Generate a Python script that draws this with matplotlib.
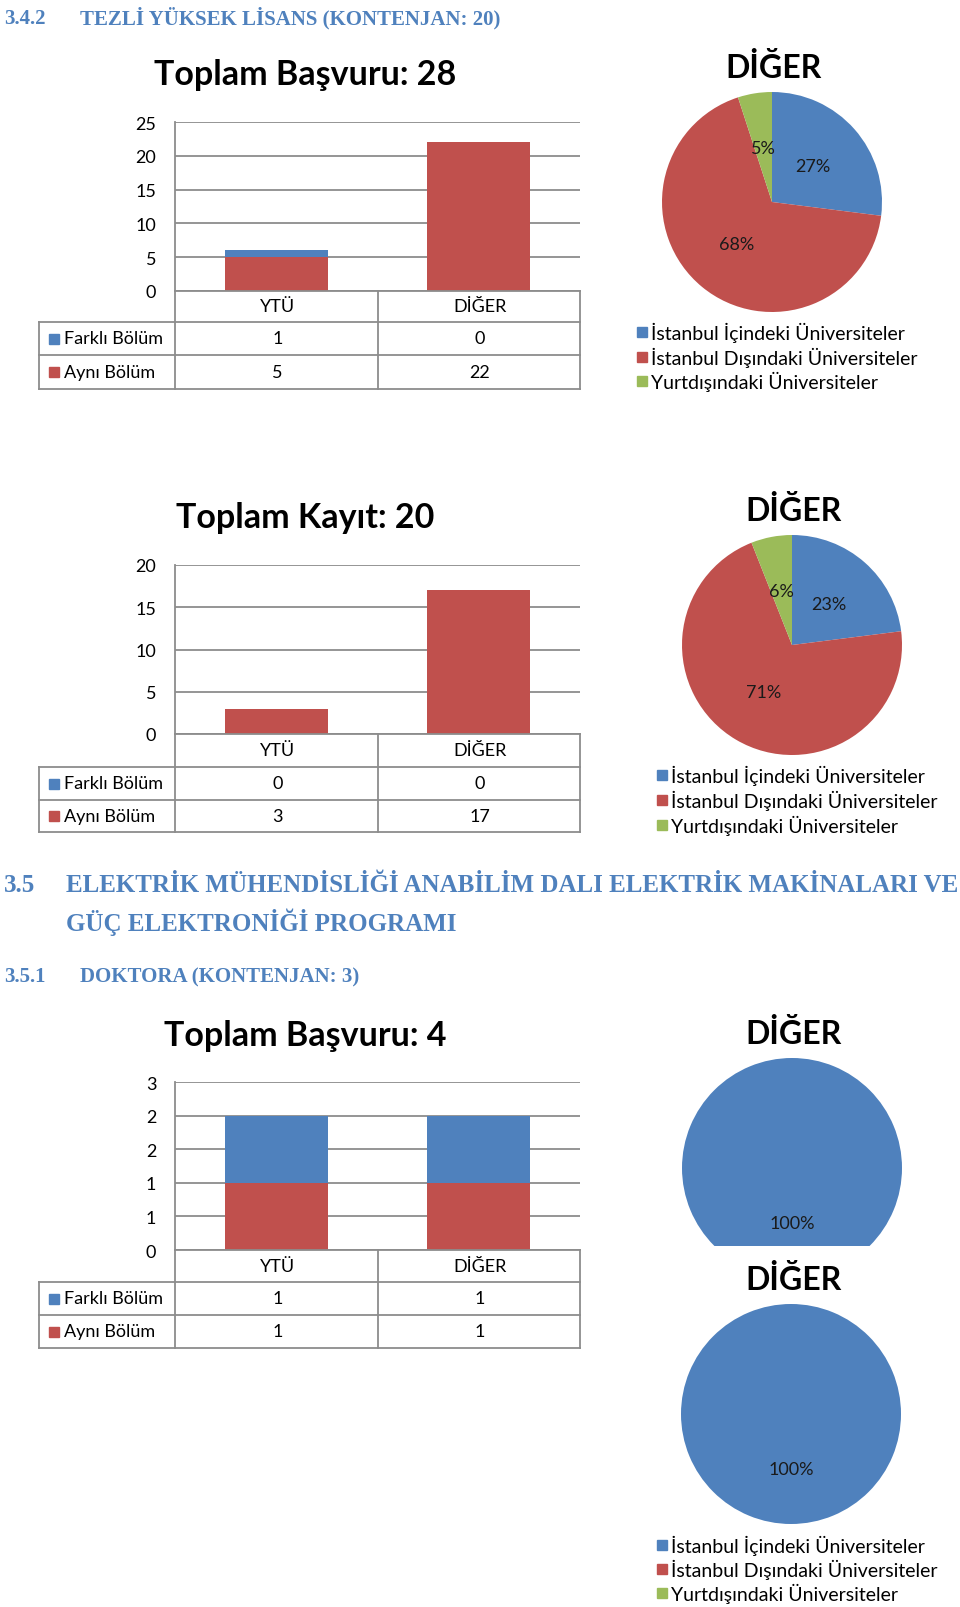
import matplotlib
matplotlib.use('Agg')
import matplotlib.pyplot as plt
from matplotlib.patches import Rectangle
from matplotlib.lines import Line2D

W, H = 960, 1608
SANS = ['Lato', 'DejaVu Sans']
SERIF = ['Liberation Serif', 'DejaVu Serif']
BLUE = '#4f81bd'
RED = '#c0504d'
GREEN = '#9bbb59'
GRID = '#8c8c8c'
HEAD = '#4f81bd'

categories = ['YTÜ', 'DİĞER']
series_names = ['Farklı Bölüm', 'Aynı Bölüm']
pie_names = ['İstanbul İçindeki Üniversiteler',
             'İstanbul Dışındaki Üniversiteler',
             'Yurtdışındaki Üniversiteler']

# 3.4.2 tezli yuksek lisans - basvuru
basvuru_farkli = [1, 0]
basvuru_ayni = [5, 22]
basvuru_diger = [27, 68, 5]
basvuru_ticks = [0, 5, 10, 15, 20, 25]

# 3.4.2 tezli yuksek lisans - kayit
kayit_farkli = [0, 0]
kayit_ayni = [3, 17]
kayit_diger = [23, 71, 6]
kayit_ticks = [0, 5, 10, 15, 20]

# 3.5.1 doktora - basvuru
doktora_farkli = [1, 1]
doktora_ayni = [1, 1]
doktora_diger_1 = [100, 0, 0]
doktora_diger_2 = [100, 0, 0]
doktora_ticks = [0, 0.5, 1, 1.5, 2, 2.5]
doktora_ticklabels = ['0', '1', '1', '2', '2', '3']

fig = plt.figure(figsize=(W / 100, H / 100), dpi=100)
fig.patch.set_facecolor('white')


def fx(x):
  return x / W


def fy(y):
  return 1 - y / H


def px_axes(x0, y0, x1, y1):
  return fig.add_axes([fx(x0), fy(y1), (x1 - x0) / W, (y1 - y0) / H])


def line(x0, y0, x1, y1):
  fig.add_artist(Line2D([fx(x0), fx(x1)], [fy(y0), fy(y1)], color=GRID, lw=1.3))


def heading(num, text, y, x_text, size):
  fig.text(fx(4), fy(y), num, ha='left', va='center', fontsize=size,
           fontweight='bold', family=SERIF, color=HEAD)
  fig.text(fx(x_text), fy(y), text, ha='left', va='center', fontsize=size,
           fontweight='bold', family=SERIF, color=HEAD)


def bar_chart(title, title_y, farkli, ayni, ticks, ticklabels, top, rows):
  xt, xl, xm, xr = 39, 175, 378, 580
  bottom = rows[0]
  ax = px_axes(xl, top, xr, bottom)
  x = range(len(categories))
  ax.bar(x, ayni, width=0.51, color=RED, zorder=2)
  ax.bar(x, farkli, bottom=ayni, width=0.51, color=BLUE, zorder=2)
  ax.set_xlim(-0.5, len(categories) - 0.5)
  ax.set_ylim(ticks[0], ticks[-1])
  ax.set_yticks(ticks)
  ax.set_yticklabels(ticklabels if ticklabels else [str(t) for t in ticks])
  ax.yaxis.grid(True, color=GRID, lw=1.3)
  ax.set_axisbelow(True)
  ax.set_xticks([])
  for s in ['top', 'right', 'bottom']:
    ax.spines[s].set_visible(False)
  ax.spines['left'].set_color(GRID)
  ax.spines['left'].set_linewidth(1.3)
  ax.tick_params(axis='y', length=0, pad=13.5, labelsize=13)
  for lab in ax.get_yticklabels():
    lab.set_family(SANS)

  fig.text(fx(305), fy(title_y), title, ha='center', va='center',
           fontsize=24.5, fontweight='bold', family=SANS)

  # data table under the axis
  line(xl, bottom, xl, rows[3])
  line(xm, bottom, xm, rows[3])
  line(xr, bottom, xr, rows[3])
  line(xt, rows[1], xt, rows[3])
  line(xl, bottom, xr, bottom)
  for r in rows[1:]:
    line(xt, r, xr, r)
  centers = [(xl + xm) / 2 + 1, (xm + xr) / 2 + 1]
  yc = (rows[0] + rows[1]) / 2
  for c, cat in zip(centers, categories):
    fig.text(fx(c), fy(yc), cat, ha='center', va='center', fontsize=13, family=SANS)
  for i, (name, vals, col) in enumerate(zip(series_names, [farkli, ayni], [BLUE, RED])):
    yc = (rows[i + 1] + rows[i + 2]) / 2
    fig.add_artist(Rectangle((fx(49), fy(yc + 5)), 10 / W, 10 / H, color=col,
                             transform=fig.transFigure))
    fig.text(fx(64), fy(yc), name, ha='left', va='center', fontsize=13, family=SANS)
    for c, v in zip(centers, vals):
      fig.text(fx(c), fy(yc), str(v), ha='center', va='center', fontsize=13, family=SANS)


def pie_chart(values, cx, cy, r, title_y, clip_y=None):
  y1 = cy + r if clip_y is None else clip_y
  ax = px_axes(cx - r, cy - r, cx + r, y1)
  wedges, _, _ = ax.pie(values, colors=[BLUE, RED, GREEN], startangle=90, counterclock=False,
                        autopct=lambda p: '%.0f%%' % p if p > 0 else '', pctdistance=0.5,
                        wedgeprops=dict(linewidth=0),
                        textprops=dict(fontsize=13, family=SANS, color='#1a1a1a'))
  for w in wedges:
    w.set_clip_on(True)
  ax.set_aspect('auto')
  ax.set_xlim(-1, 1)
  ax.set_ylim(-(y1 - cy) / r, 1)
  fig.text(fx(cx + 2), fy(title_y), 'DİĞER', ha='center', va='center',
           fontsize=23, fontweight='bold', family=SANS)


def pie_legend(x_sq, x_txt, ys):
  for name, col, y in zip(pie_names, [BLUE, RED, GREEN], ys):
    fig.add_artist(Rectangle((fx(x_sq), fy(y + 5)), 10 / W, 10 / H, color=col,
                             transform=fig.transFigure))
    fig.text(fx(x_txt), fy(y), name, ha='left', va='center', fontsize=14, family=SANS)


# section 3.4.2
heading('3.4.2', 'TEZLİ YÜKSEK LİSANS (KONTENJAN: 20)', 18.5, 80, 15)

bar_chart('Toplam Başvuru: 28', 75, basvuru_farkli, basvuru_ayni, basvuru_ticks, None,
          123, [292, 323, 356, 390])
pie_chart(basvuru_diger, 772, 203, 110, 68)
pie_legend(637, 651, [333, 358, 382])

bar_chart('Toplam Kayıt: 20', 518, kayit_farkli, kayit_ayni, kayit_ticks, None,
          566, [735, 768, 801, 833])
pie_chart(kayit_diger, 792, 646, 110, 511)
pie_legend(657, 671, [776, 801, 826])

# section 3.5
heading('3.5', 'ELEKTRİK MÜHENDİSLİĞİ ANABİLİM DALI ELEKTRİK MAKİNALARI VE', 886, 66, 18)
fig.text(fx(66), fy(922), 'GÜÇ ELEKTRONİĞİ PROGRAMI', ha='left', va='center',
         fontsize=18, fontweight='bold', family=SERIF, color=HEAD)
heading('3.5.1', 'DOKTORA (KONTENJAN: 3)', 977, 80, 15)

bar_chart('Toplam Başvuru: 4', 1036, doktora_farkli, doktora_ayni, doktora_ticks,
          doktora_ticklabels, 1083, [1251, 1283, 1316, 1349])
pie_chart(doktora_diger_1, 792, 1169, 110, 1034, clip_y=1247)
pie_chart(doktora_diger_2, 791, 1415, 110, 1280)
pie_legend(657, 671, [1546, 1570, 1594])

fig.savefig('out.png', dpi=100, facecolor='white')
